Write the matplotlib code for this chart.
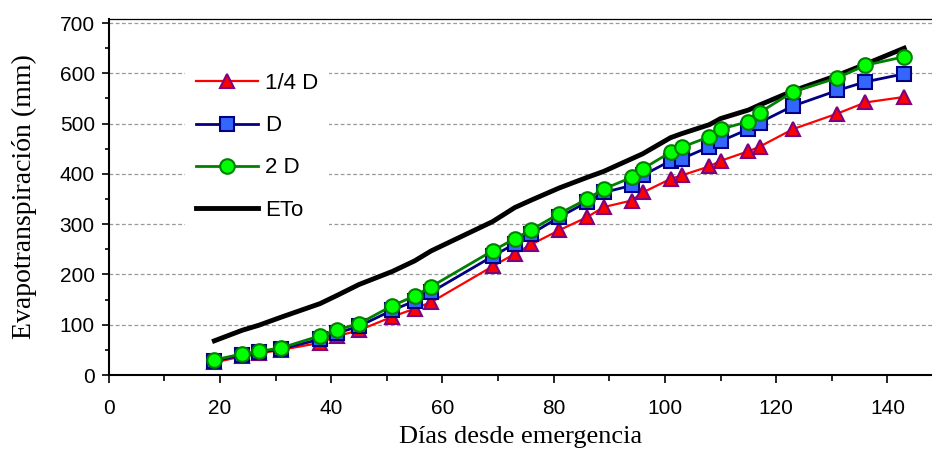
import matplotlib
matplotlib.use('Agg')
import matplotlib.pyplot as plt
from matplotlib.ticker import MultipleLocator

# dias desde emergencia
dias = [19, 24, 27, 31, 38, 41, 45, 51, 55, 58, 69, 73, 76, 81, 86, 89, 94, 96,
        101, 103, 108, 110, 115, 117, 123, 131, 136, 143]

# evapotranspiracion acumulada (mm)
et_cuarto = [25, 37, 43, 50, 64, 77, 89, 116, 132, 145, 216, 241, 260, 288, 314, 334,
             347, 363, 390, 397, 415, 426, 445, 454, 489, 520, 542, 553]
et_d = [28, 40, 45, 52, 71, 83, 97, 129, 147, 165, 236, 261, 281, 314, 344, 363,
        377, 397, 426, 430, 454, 465, 489, 502, 535, 566, 583, 599]
et_2d = [30, 42, 47, 54, 78, 90, 102, 138, 157, 176, 247, 271, 289, 321, 350, 370,
         393, 410, 443, 453, 474, 489, 504, 522, 563, 591, 616, 633]
eto = [68, 89, 99, 115, 142, 158, 180, 206, 227, 247, 305, 333, 348, 372, 393, 405,
       430, 440, 472, 480, 498, 510, 527, 537, 565, 596, 618, 650]

etiquetas = ['1/4 D', 'D', '2 D', 'ETo']

fig = plt.figure(figsize=(9.32, 4.57), dpi=100)
ax = fig.add_axes([0.1166, 0.1794, 0.8834, 0.779])

l1, = ax.plot(dias, et_cuarto, color='red', lw=1.6, marker='^', ms=10.5,
              mfc='red', mec='#800080', mew=1.5, zorder=4)
l2, = ax.plot(dias, et_d, color='#000080', lw=2, marker='s', ms=10,
              mfc='#3366FF', mec='#000080', mew=1.5, zorder=5)
l3, = ax.plot(dias, et_2d, color='#008000', lw=2, marker='o', ms=10.5,
              mfc='#00FF00', mec='#008000', mew=1.5, zorder=6)
l4, = ax.plot(dias, eto, color='black', lw=3.5, zorder=3)

ax.set_xlim(0, 148)
ax.set_ylim(0, 708)
ax.xaxis.set_major_locator(MultipleLocator(20))
ax.xaxis.set_minor_locator(MultipleLocator(10))
ax.yaxis.set_major_locator(MultipleLocator(100))
ax.yaxis.set_minor_locator(MultipleLocator(50))

ax.yaxis.grid(True, which='major', color='#999999', ls=(0, (3, 2)), lw=0.9)
ax.set_axisbelow(True)

ax.spines['right'].set_visible(False)
ax.spines['top'].set_linewidth(0.9)
ax.spines['left'].set_linewidth(1.5)
ax.spines['bottom'].set_linewidth(1.5)

ax.tick_params(axis='x', which='major', direction='out', length=6, width=1.2, pad=11)
ax.tick_params(axis='x', which='minor', direction='out', length=4, width=1.2)
ax.tick_params(axis='y', which='major', direction='out', length=5, width=1.2, pad=5)
ax.tick_params(axis='y', which='minor', direction='out', length=3, width=1.2)
for lab in ax.get_xticklabels() + ax.get_yticklabels():
    lab.set_fontfamily('Liberation Sans')
    lab.set_fontsize(15)

ax.set_xlabel('Días desde emergencia', family='Liberation Serif', fontsize=19, labelpad=6)
ax.set_ylabel('Evapotranspiración (mm)', family='Liberation Serif', fontsize=20, labelpad=16)

leg = fig.legend([l1, l2, l3, l4], etiquetas, loc='upper left',
                 bbox_to_anchor=(0.1985, 0.864), borderaxespad=0,
                 prop={'family': 'Liberation Sans', 'size': 16},
                 frameon=True, facecolor='white', edgecolor='none', framealpha=1,
                 fancybox=False, handlelength=2.8, handletextpad=0.3,
                 labelspacing=0.95, borderpad=0.5, markerscale=1.0)
leg.set_zorder(10)

fig.savefig('out.png', dpi=100)
